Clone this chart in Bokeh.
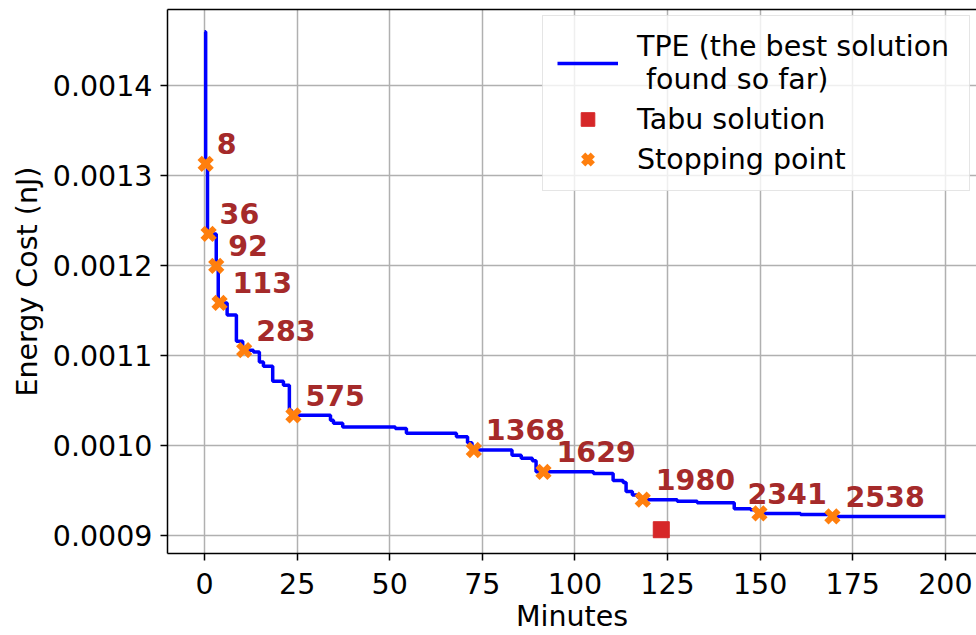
from bokeh.plotting import figure
from bokeh.models import (FixedTicker, PrintfTickFormatter, LinearAxis, Legend,
                          LegendItem, ColumnDataSource)
from bokeh.core.properties import value
from bokeh.embed import file_html
from bokeh.resources import INLINE

# ---- data ----
tpe_minutes = [0.0, 0.3, 0.8, 3.16, 3.7, 6.1, 8.6, 10.3, 13.2, 14.8, 15.9, 18.4,
               21.3, 22.9, 23.5, 34.0, 34.8, 37.3, 51.5, 54.5, 68.0, 71.0, 72.2,
               83.0, 85.5, 88.5, 89.5, 105.0, 110.3, 113.0, 113.8, 115.5, 117.0,
               118.0, 127.6, 133.0, 143.0, 147.4, 149.3, 160.9, 169.0, 200.0]
tpe_energy = [0.001460, 0.0013131, 0.0012352, 0.0011996, 0.0011584, 0.0011450,
              0.0011160, 0.0011060, 0.0011038, 0.0010927, 0.0010882, 0.0010715,
              0.0010670, 0.0010392, 0.0010336, 0.0010281, 0.0010247, 0.0010206,
              0.0010188, 0.0010136, 0.0010098, 0.0010030, 0.0009950, 0.0009891,
              0.0009857, 0.0009830, 0.0009707, 0.0009690, 0.0009612, 0.0009590,
              0.0009490, 0.0009451, 0.0009423, 0.0009398, 0.0009379, 0.0009364,
              0.0009297, 0.0009286, 0.0009245, 0.0009234, 0.0009212, 0.0009212]

stop_trials = ["8", "36", "92", "113", "283", "575", "1368", "1629", "1980", "2341", "2538"]
stop_minutes = [0.3, 1.1, 3.16, 4.05, 10.7, 24.0, 72.7, 91.5, 118.3, 149.8, 169.5]
stop_energy = [0.0013131, 0.0012352, 0.0011996, 0.0011584, 0.0011060, 0.0010336,
               0.0009950, 0.0009707, 0.0009398, 0.0009245, 0.0009212]

tabu_minutes = [123.3]
tabu_energy = [0.0009064]

x_ticks = [0, 25, 50, 75, 100, 125, 150, 175, 200]
y_ticks = [0.0009, 0.0010, 0.0011, 0.0012, 0.0013, 0.0014]

# label style offsets (pixels)
label_dx = [11, 11, 12, 13, 12, 12, 12, 13, 13, -12, 13]

FONT = "DejaVu Sans"
FS = "28.5px"

p = figure(width=976, height=635, x_range=(-10, 208.4), y_range=(0.00087996, 0.0014846),
           output_backend="svg", toolbar_location=None,
           min_border_left=167, min_border_right=0, min_border_top=9, min_border_bottom=82)
p.outline_line_color = None
p.background_fill_color = "white"

for ax in (p.xaxis[0], p.yaxis[0]):
    ax.axis_line_color = "black"
    ax.axis_line_width = 1.5
    ax.major_tick_line_color = "black"
    ax.major_tick_line_width = 1.5
    ax.major_tick_out = 7
    ax.major_tick_in = 0
    ax.minor_tick_line_color = None
    ax.major_label_text_font = FONT
    ax.major_label_text_font_size = FS
    ax.major_label_text_color = "black"
    ax.axis_label_text_font = FONT
    ax.axis_label_text_font_size = FS
    ax.axis_label_text_font_style = "normal"
    ax.axis_label_text_color = "black"

p.xaxis.ticker = FixedTicker(ticks=x_ticks)
p.yaxis.ticker = FixedTicker(ticks=y_ticks)
p.yaxis.formatter = PrintfTickFormatter(format="%.4f")
p.xaxis.axis_label = "Minutes"
p.yaxis.axis_label = "Energy Cost (nJ)"
p.xaxis.major_label_standoff = 12
p.xaxis.axis_label_standoff = 3
p.yaxis.major_label_standoff = 8
p.yaxis.axis_label_standoff = 6

top_axis = LinearAxis(ticker=FixedTicker(ticks=[]), major_tick_out=0, major_tick_in=0,
                      minor_tick_out=0, minor_tick_in=0, major_label_text_font_size="0px",
                      major_label_standoff=0, axis_line_color="black", axis_line_width=1.5)
p.add_layout(top_axis, "above")

p.grid.grid_line_color = "#b0b0b0"
p.grid.grid_line_width = 1.5

line = p.step(tpe_minutes, tpe_energy, mode="after", line_color="#0000ff", line_width=3.5)

stops_src = ColumnDataSource(dict(x=stop_minutes, y=stop_energy, t=stop_trials, dx=label_dx))
stops = p.scatter("x", "y", source=stops_src, marker="x", size=17, line_width=6,
                  line_color="#ff7f0e")
tabu = p.scatter(tabu_minutes, tabu_energy, marker="square", size=16,
                 fill_color="#d62728", line_color="#d62728")

p.text("x", "y", text="t", source=stops_src, x_offset="dx", y_offset=-20,
       text_font=value(FONT), text_font_size=FS, text_font_style="bold",
       text_color="#a52a2a", text_baseline="alphabetic", text_align="left")

legend = Legend(items=[
    LegendItem(label="TPE (the best solution\n found so far)", renderers=[line]),
    LegendItem(label="Tabu solution", renderers=[tabu]),
    LegendItem(label="Stopping point", renderers=[stops]),
], location=(375, 362))
legend.label_text_font = FONT
legend.label_text_font_size = FS
legend.label_text_color = "black"
legend.glyph_width = 61
legend.glyph_height = 34
legend.label_height = 34
legend.label_width = 318
legend.spacing = 6
legend.padding = 14
legend.label_standoff = 19
legend.margin = 0
legend.border_line_color = "#cccccc"
legend.border_line_width = 1.5
legend.background_fill_alpha = 0.8
p.add_layout(legend)

open("out.html", "w").write(file_html(p, INLINE))
